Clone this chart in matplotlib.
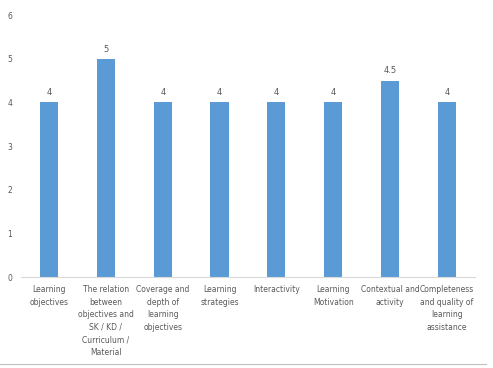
import numpy as np
import matplotlib.pyplot as plt
from matplotlib.lines import Line2D

categories = ['Learning\nobjectives',
              'The relation\nbetween\nobjectives and\nSK / KD /\nCurriculum /\nMaterial',
              'Coverage and\ndepth of\nlearning\nobjectives',
              'Learning\nstrategies',
              'Interactivity',
              'Learning\nMotivation',
              'Contextual and\nactivity',
              'Completeness\nand quality of\nlearning\nassistance']
values = [4, 5, 4, 4, 4, 4, 4.5, 4]
value_labels = ['4', '5', '4', '4', '4', '4', '4.5', '4']
yticks = [0, 1, 2, 3, 4, 5, 6]

grey = '#595959'
fig = plt.figure(figsize=(4.93, 3.68), dpi=100)
ax = fig.add_axes([0.042, 0.247, 0.922, 0.712])

x = np.arange(len(categories))
bars = ax.bar(x, values, width=0.32, color='#5B9BD5', zorder=2)
for b, lab in zip(bars, value_labels):
    ax.text(b.get_x() + b.get_width() / 2, b.get_height() + 0.12, lab,
            ha='center', va='bottom', fontsize=6, color=grey)

ax.set_xlim(-0.5, len(categories) - 0.5)
ax.set_ylim(0, 6)
ax.set_yticks(yticks)
ax.set_yticklabels([str(t) for t in yticks], fontsize=5.5, color=grey)
ax.set_xticks(x)
ax.set_xticklabels(categories, fontsize=5.5, color=grey, va='top', linespacing=1.5)
ax.tick_params(axis='x', length=0, pad=6)
ax.tick_params(axis='y', length=0, pad=6)

for s in ['top', 'right', 'left']:
    ax.spines[s].set_visible(False)
ax.spines['bottom'].set_color('#d9d9d9')
ax.spines['bottom'].set_linewidth(0.8)

# thin grey line along the bottom edge of the image
fig.add_artist(Line2D([0, 0.985], [0.01, 0.01], transform=fig.transFigure,
                      color='#bfbfbf', linewidth=0.8))

fig.savefig('out.png', dpi=100)
